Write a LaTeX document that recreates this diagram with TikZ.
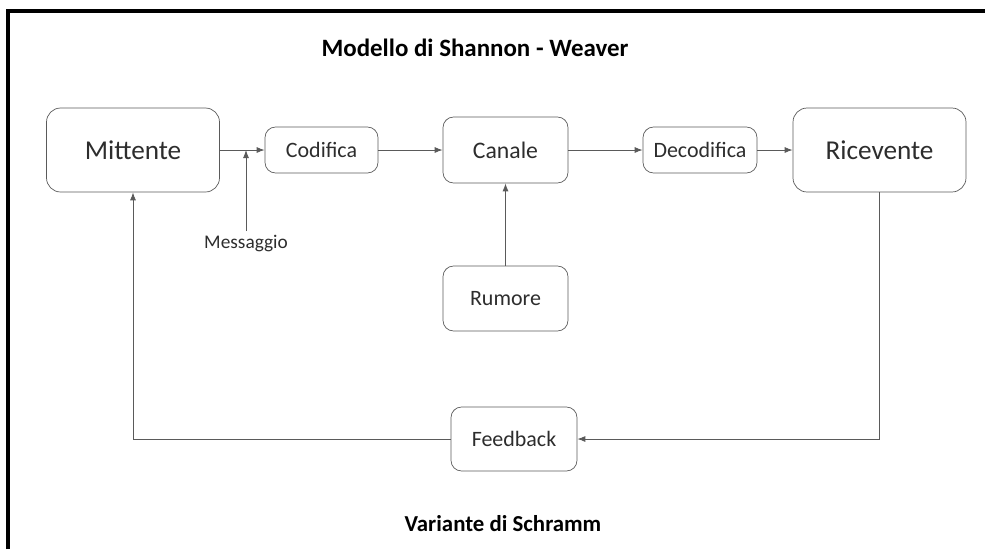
\documentclass[tikz,border=0pt]{standalone}
\usepackage{fontspec}
\setmainfont{Carlito}
\usepackage{tikz}
\usetikzlibrary{arrows.meta,positioning,calc}
\definecolor{boxline}{RGB}{90,90,90}
\definecolor{boxtext}{RGB}{45,45,45}

\begin{document}
\begin{tikzpicture}[x=0.02cm, y=-0.02cm, >={Latex[length=1.6mm,width=1.2mm]},
  bigbox/.style={draw=boxline, rounded corners=8pt, minimum width=3.46cm, minimum height=1.68cm, text=boxtext, font=\fontsize{15.5}{18}\selectfont},
  smallbox/.style={draw=boxline, rounded corners=6pt, text=boxtext, font=\fontsize{12.5}{15}\selectfont},
  link/.style={draw=boxline, line width=0.5pt}]
\useasboundingbox (0,0) rectangle (985,549);
% outer frame
\draw[line width=2pt, black] (8,549) -- (8,11) -- (985,11);

\node[font=\bfseries\fontsize{14.2}{17}\selectfont] (title) at (475,48) {Modello di Shannon - Weaver};

\node[bigbox] (mittente) at (133,150) {Mittente};
\node[smallbox, minimum width=2.26cm, minimum height=0.92cm] (codifica) at (321.5,150) {Codifica};
\node[smallbox, minimum width=2.5cm, minimum height=1.32cm, font=\fontsize{13.5}{16}\selectfont] (canale) at (505.5,150) {Canale};
\node[smallbox, minimum width=2.28cm, minimum height=0.92cm] (decodifica) at (700,150) {Decodifica};
\node[bigbox] (ricevente) at (879.5,150) {Ricevente};
\node[smallbox, minimum width=2.5cm, minimum height=1.3cm] (rumore) at (505.5,298.5) {Rumore};
\node[smallbox, minimum width=2.52cm, minimum height=1.28cm] (feedback) at (514,439) {Feedback};
\node[text=boxtext, font=\fontsize{11}{13}\selectfont] (msg) at (246,244) {Messaggio};

\coordinate (msgtop) at (246,150);
\coordinate (msgfoot) at (246,231);
\coordinate (rdown) at (ricevente.south |- feedback.east);
\coordinate (mdown) at (mittente.south |- feedback.west);

\draw[link,->] (mittente.east |- codifica.west) -- (codifica.west);
\draw[link,->] (msgfoot) -- (msgtop);
\draw[link,->] (codifica.east) -- (canale.west |- codifica.east);
\draw[link,->] (canale.east) -- (decodifica.west |- canale.east);
\draw[link,->] (decodifica.east) -- (ricevente.west |- decodifica.east);
\draw[link,->] (rumore.north) -- (canale.south);
\draw[link,->] (ricevente.south) -- (rdown) -- (feedback.east);
\draw[link,->] (feedback.west) -- (mdown) -- (mittente.south);

\node[font=\bfseries\fontsize{13}{16}\selectfont] (schramm) at (503,524) {Variante di Schramm};
\end{tikzpicture}
\end{document}
